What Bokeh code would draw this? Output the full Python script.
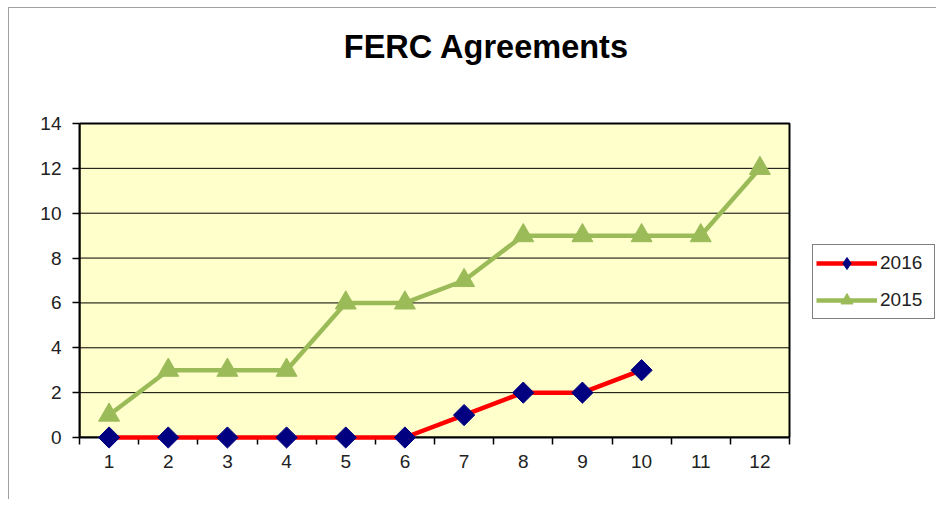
from bokeh.plotting import figure
from bokeh.models import Range1d, FixedTicker, Legend, LegendItem, Label
from bokeh.embed import file_html
from bokeh.resources import INLINE

months_2016 = [1, 2, 3, 4, 5, 6, 7, 8, 9, 10]
values_2016 = [0, 0, 0, 0, 0, 0, 1, 2, 2, 3]
months_2015 = [1, 2, 3, 4, 5, 6, 7, 8, 9, 10, 11, 12]
values_2015 = [1, 3, 3, 3, 6, 6, 7, 9, 9, 9, 9, 12]
x_ticks = [1, 2, 3, 4, 5, 6, 7, 8, 9, 10, 11, 12]
y_ticks = [0, 2, 4, 6, 8, 10, 12, 14]
title_text = "FERC Agreements"

FONT = "Liberation Sans"

# layout (canvas pixels)
W, H = 928, 492
FRAME_L = 70          # left edge of plot area
PLOT_R = 780          # right edge of plot area
PLOT_T = 115          # top edge of plot area
PLOT_B = 429          # bottom edge of plot area
X0, X1 = x_ticks[0] - 0.5, x_ticks[-1] + 0.5
Y0, Y1 = y_ticks[0], y_ticks[-1]
xpx = (PLOT_R - FRAME_L) / (X1 - X0)
ypx = (PLOT_B - PLOT_T) / (Y1 - Y0)
x_end = X0 + (W - FRAME_L) / xpx
y_end = Y1 + PLOT_T / ypx

p = figure(width=W, height=H, output_backend="svg", toolbar_location=None,
           x_range=Range1d(X0, x_end), y_range=Range1d(Y0, y_end),
           min_border_left=FRAME_L, min_border_right=0, min_border_top=0,
           min_border_bottom=H - PLOT_B)
p.styles = {"margin-top": "7px", "margin-left": "8px",
            "border-top": "1px solid #a0a0a0", "border-left": "1px solid #a0a0a0"}

p.background_fill_color = "white"
p.border_fill_color = "white"
p.outline_line_color = None
p.grid.visible = False

# yellow plot area with black border
p.quad(left=[X0], right=[X1], bottom=[Y0], top=[Y1], fill_color="#FFFFCC",
       line_color="black", line_width=2, level="image")
# horizontal grid lines, limited to the plot area
p.segment(x0=[X0] * len(y_ticks), x1=[X1] * len(y_ticks), y0=y_ticks, y1=y_ticks,
          line_color="black", line_width=1, level="underlay")

xax = p.below[0]
yax = p.left[0]

yax.ticker = FixedTicker(ticks=y_ticks)
yax.bounds = (Y0, Y1)
yax.major_tick_in = 0
yax.major_tick_out = 7
yax.minor_tick_line_color = None
yax.major_label_standoff = 11

xax.ticker = FixedTicker(ticks=x_ticks, minor_ticks=[v - 0.5 for v in x_ticks] + [X1])
xax.bounds = (X0, X1)
xax.major_tick_in = 0
xax.major_tick_out = 0
xax.minor_tick_in = 0
xax.minor_tick_out = 7
xax.major_label_standoff = 10
xax.minor_tick_line_color = "black"

for ax in (xax, yax):
    ax.axis_line_color = "black"
    ax.axis_line_width = 2
    ax.major_tick_line_color = "black"
    ax.major_tick_line_width = 1.5
    ax.minor_tick_line_width = 1.5
    ax.major_label_text_font = FONT
    ax.major_label_text_font_size = "19px"
    ax.major_label_text_color = "#222222"

# title
title = Label(x=X0 + (477 - FRAME_L) / xpx, y=(PLOT_B - 38) / ypx, text=title_text,
              text_font=FONT, text_font_size="32.5px", text_font_style="bold",
              text_color="black", text_align="center", text_baseline="alphabetic")
p.add_layout(title)

green = "#9BBB59"
red = "#FF0000"
navy = "#000080"

l15 = p.line(months_2015, values_2015, line_color=green, line_width=4.5, level="overlay")
m15 = p.scatter(months_2015, values_2015, marker="triangle", size=21,
                fill_color=green, line_color=green, level="overlay")
l16 = p.line(months_2016, values_2016, line_color=red, line_width=4.5, level="overlay")
# diamond glyph (hidden under the rotated squares) used for the legend entry
m16_leg = p.scatter(months_2016, values_2016, marker="diamond", size=15,
                    fill_color=navy, line_color=navy, level="overlay")
m16 = p.scatter(months_2016, values_2016, marker="square", size=15, angle=0.7853981634,
                fill_color=navy, line_color=navy, level="overlay")

legend = Legend(items=[LegendItem(label="2016", renderers=[l16, m16_leg]),
                       LegendItem(label="2015", renderers=[l15, m15])],
                location=(803 - FRAME_L, PLOT_B - 311))
legend.label_text_font = FONT
legend.label_text_font_size = "19px"
legend.label_text_color = "#222222"
legend.glyph_width = 61
legend.glyph_height = 30
legend.label_height = 30
legend.label_width = 51
legend.label_standoff = 3
legend.spacing = 7
legend.padding = 3
legend.margin = 0
legend.border_line_color = "black"
legend.border_line_width = 1
legend.background_fill_color = "white"
legend.background_fill_alpha = 1
p.add_layout(legend, "center")

open("out.html", "w").write(file_html(p, INLINE))
